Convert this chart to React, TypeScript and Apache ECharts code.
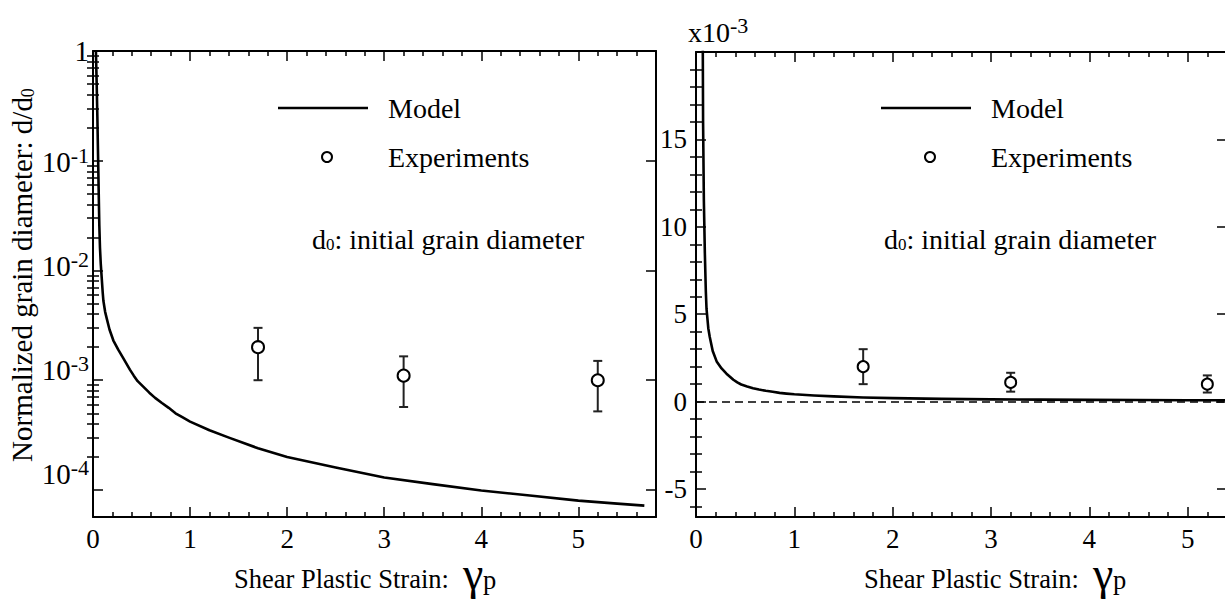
import React, { useEffect, useRef } from "react";
import * as echarts from "echarts";

// ---------- data ----------
const modelStrain = [0.03, 0.038, 0.045, 0.05, 0.055, 0.06, 0.065, 0.072, 0.08, 0.09, 0.1, 0.107, 0.125, 0.14, 0.17, 0.21, 0.26, 0.31, 0.38, 0.42, 0.46, 0.52, 0.58, 0.64, 0.71, 0.78, 0.85, 0.92, 1.0, 1.2, 1.4, 1.7, 2.0, 2.5, 3.0, 3.5, 4.0, 4.5, 5.0, 5.4, 5.68];
const modelDiameter = [1.0, 0.5, 0.25, 0.14, 0.08, 0.045, 0.026, 0.016, 0.0115, 0.0085, 0.0063, 0.0053, 0.0042, 0.0037, 0.0029, 0.0023, 0.0019, 0.0016, 0.00125, 0.0011, 0.00098, 0.00087, 0.00077, 0.00069, 0.00062, 0.00056, 0.0005, 0.00046, 0.00042, 0.00035, 0.0003, 0.00024, 0.0002, 0.00016, 0.00013, 0.000113, 0.000099, 0.000089, 0.00008, 0.000075, 0.000072];

const expStrain = [1.7, 3.2, 5.2];
const expDiameter = [0.002, 0.0011, 0.001];
const expUpper = [0.003, 0.00165, 0.0015];
const expLower = [0.001, 0.00057, 0.00052];

const xMajorTicks = [0, 1, 2, 3, 4, 5];
const logMajorTicks = [1e-4, 1e-3, 1e-2, 1e-1, 1];
const logMinorTicks: number[] = [];
for (let e = -4; e <= -1; e++) for (let k = 2; k <= 9; k++) logMinorTicks.push(k * Math.pow(10, e));
const linMajorTicks = [-5, 0, 5, 10, 15]; // x10^-3
const linMinorTicks = [-6, -4, -3, -2, -1, 1, 2, 3, 4, 6, 7, 8, 9, 11, 12, 13, 14, 16, 17, 18, 19]; // x10^-3

const FONT = '"Liberation Serif", "Times New Roman", serif';
const BLACK = "#000";

// label lift (px) of each decade label, as drawn in the reference
const labelLift: Record<string, number> = { "0": 0, "-1": 0, "-2": 6, "-3": 12, "-4": 17 };

function buildOption() {
  const axisLine = { show: true, onZero: false, lineStyle: { color: BLACK, width: 2 } };
  const tickStyle = { color: BLACK, width: 1.5 };

  const xAxis = (gridIndex: number, max: number, position: string, labels: boolean) => ({
    type: "value",
    gridIndex,
    min: 0,
    max,
    interval: 1,
    position,
    axisLine,
    axisTick: { show: true, inside: true, length: 10, customValues: xMajorTicks, lineStyle: tickStyle },
    minorTick: { show: true, splitNumber: 5, length: 5, lineStyle: tickStyle },
    axisLabel: labels
      ? { show: true, customValues: xMajorTicks, fontFamily: FONT, fontSize: 27, color: BLACK, margin: 8 }
      : { show: false },
    splitLine: { show: false },
    minorSplitLine: { show: false },
  });

  const logRich: Record<string, any> = {};
  Object.keys(labelLift).forEach((k, i) => {
    const P = 2 * labelLift[k];
    logRich["b" + i] = { fontFamily: FONT, fontSize: 29, color: BLACK, verticalAlign: "bottom", padding: [0, 0, P, 0] };
    logRich["s" + i] = { fontFamily: FONT, fontSize: 22, color: BLACK, verticalAlign: "top", padding: [0, 0, 10 + P, 0] };
  });
  const liftKeys = Object.keys(labelLift);

  const logAxis = (position: string, major: boolean, labels: boolean) => ({
    type: "log",
    gridIndex: 0,
    min: 5.67e-5,
    max: 1,
    position,
    axisLine: major ? axisLine : { show: false },
    axisTick: { show: true, inside: true, length: major ? 10 : 6, customValues: major ? logMajorTicks : logMinorTicks, lineStyle: tickStyle },
    axisLabel: labels
      ? {
          show: true,
          customValues: logMajorTicks,
          margin: 4,
          formatter: (v: number) => {
            const e = Math.round(Math.log10(v));
            const i = liftKeys.indexOf(String(e));
            return e === 0 ? `{b${i}|1}` : `{b${i}|10}{s${i}|${e}}`;
          },
          rich: logRich,
        }
      : { show: false },
    splitLine: { show: false },
    minorTick: { show: false },
  });

  const linAxis = (position: string, major: boolean, labels: boolean) => ({
    type: "value",
    gridIndex: 1,
    min: -0.0066,
    max: 0.02,
    position,
    axisLine: major ? axisLine : { show: false },
    axisTick: {
      show: true,
      inside: true,
      length: major ? 10 : 6,
      customValues: (major ? linMajorTicks : linMinorTicks).map((v) => v / 1000),
      lineStyle: tickStyle,
    },
    axisLabel: labels
      ? {
          show: true,
          customValues: linMajorTicks.map((v) => v / 1000),
          margin: 9,
          fontFamily: FONT,
          fontSize: 27,
          color: BLACK,
          formatter: (v: number) => String(Math.round(v * 1000)),
        }
      : { show: false },
    splitLine: { show: false },
    minorTick: { show: false },
  });

  const modelData = modelStrain.map((x, i) => [x, modelDiameter[i]]);
  const expData = expStrain.map((x, i) => [x, expDiameter[i]]);
  const errData = expStrain.map((x, i) => [x, expLower[i], expUpper[i]]);

  const errorBars = (xAxisIndex: number, yAxisIndex: number) => ({
    type: "custom",
    xAxisIndex,
    yAxisIndex,
    z: 3,
    data: errData,
    encode: { x: 0, y: [1, 2] },
    renderItem: (_p: any, api: any) => {
      const lo = api.coord([api.value(0), api.value(1)]);
      const hi = api.coord([api.value(0), api.value(2)]);
      const w = 4.5;
      const st = { stroke: "#222", lineWidth: 2 };
      return {
        type: "group",
        children: [
          { type: "line", shape: { x1: lo[0], y1: lo[1], x2: hi[0], y2: hi[1] }, style: st },
          { type: "line", shape: { x1: lo[0] - w, y1: lo[1], x2: lo[0] + w, y2: lo[1] }, style: st },
          { type: "line", shape: { x1: hi[0] - w, y1: hi[1], x2: hi[0] + w, y2: hi[1] }, style: st },
        ],
      };
    },
  });

  const scatter = (xAxisIndex: number, yAxisIndex: number, size: number) => ({
    type: "scatter",
    xAxisIndex,
    yAxisIndex,
    z: 4,
    symbol: "circle",
    symbolSize: size,
    data: expData,
    itemStyle: { color: "#fff", borderColor: BLACK, borderWidth: 2, opacity: 1 },
  });

  const modelLine = (xAxisIndex: number, yAxisIndex: number, extra: any = {}) => ({
    type: "line",
    xAxisIndex,
    yAxisIndex,
    z: 2,
    data: modelData,
    showSymbol: false,
    symbol: "none",
    clip: true,
    lineStyle: { color: BLACK, width: 2.6, join: "round" },
    ...extra,
  });

  const textEl = (x: number, y: number, text: string, size = 28, rich?: any, lineHeight?: number) => ({
    type: "text",
    x,
    y,
    style: {
      text,
      rich,
      align: "left",
      verticalAlign: "middle",
      fill: BLACK,
      fontFamily: FONT,
      fontSize: size,
      lineHeight,
    },
  });

  const d0Rich = {
    t: { fontFamily: FONT, fontSize: 28, color: BLACK, verticalAlign: "bottom" },
    s: { fontFamily: FONT, fontSize: 17, color: BLACK, verticalAlign: "bottom" },
  };
  const yTitleRich = {
    t: { fontFamily: FONT, fontSize: 29, color: BLACK, verticalAlign: "bottom" },
    s: { fontFamily: FONT, fontSize: 18, color: BLACK, verticalAlign: "bottom" },
  };
  const sciRich = {
    t: { fontFamily: FONT, fontSize: 28, color: BLACK, verticalAlign: "bottom" },
    s: { fontFamily: FONT, fontSize: 22, color: BLACK, verticalAlign: "top", padding: [0, 0, 10, 0] },
  };

  const legend = (dx: number, noteX: number) => [
    { type: "line", shape: { x1: 278 + dx, y1: 108, x2: 368 + dx, y2: 108 }, style: { stroke: BLACK, lineWidth: 2.6 } },
    textEl(388 + dx, 108, "Model"),
    { type: "circle", shape: { cx: 327 + dx, cy: 157, r: 5 }, style: { fill: "#fff", stroke: BLACK, lineWidth: 2 } },
    textEl(388 + dx, 157, "Experiments"),
    textEl(noteX, 239, "{t|d}{s|0}{t|: initial grain diameter}", 28, d0Rich),
  ];

  const xTitle = (dx: number) => [
    textEl(234 + dx, 579, "Shear Plastic Strain:", 26.5, undefined, 26),
    textEl(463 + dx, 573, "γ", 46, undefined, 26),
    textEl(483 + dx, 580, "p", 26.5, undefined, 22),
  ];

  return {
    animation: false,
    backgroundColor: "#fff",
    grid: [
      { left: 93, top: 51, width: 563, height: 466, containLabel: false, outerBoundsMode: "none" },
      { left: 696, top: 52, width: 531, height: 465, containLabel: false, outerBoundsMode: "none" },
    ],
    xAxis: [
      xAxis(0, 5.8, "bottom", true),
      xAxis(0, 5.8, "top", false),
      xAxis(1, 5.4, "bottom", true),
      xAxis(1, 5.4, "top", false),
    ],
    yAxis: [
      logAxis("left", true, true),
      logAxis("left", false, false),
      logAxis("right", true, false),
      logAxis("right", false, false),
      linAxis("left", true, true),
      linAxis("left", false, false),
      linAxis("right", true, false),
      linAxis("right", false, false),
    ],
    series: [
      modelLine(0, 0),
      errorBars(0, 0),
      scatter(0, 0, 12),
      modelLine(2, 4, {
        markLine: {
          silent: true,
          symbol: "none",
          label: { show: false },
          lineStyle: { type: [8, 5], color: BLACK, width: 1.6 },
          data: [{ yAxis: 0 }],
        },
      }),
      errorBars(2, 4),
      scatter(2, 4, 11),
    ],
    graphic: [
      ...legend(0, 312),
      ...legend(603, 884),
      ...xTitle(0),
      ...xTitle(630),
      {
        type: "text",
        x: 22,
        y: 275,
        rotation: Math.PI / 2,
        style: {
          text: "{t|Normalized grain diameter: d/d}{s|0}",
          rich: yTitleRich,
          align: "center",
          verticalAlign: "middle",
          fill: BLACK,
          fontFamily: FONT,
          fontSize: 29,
        },
      },
      textEl(688, 30, "{t|x10}{s|-3}", 28, sciRich),
    ],
  };
}

export default function App() {
  const ref = useRef<HTMLDivElement>(null);
  useEffect(() => {
    const chart = echarts.init(ref.current!, undefined, { renderer: "svg" });
    chart.setOption(buildOption() as any);
    return () => chart.dispose();
  }, []);
  return (
    <div
      ref={ref}
      style={{ position: "absolute", left: 0, top: 0, width: 1225, height: 601, background: "#fff" }}
    />
  );
}
